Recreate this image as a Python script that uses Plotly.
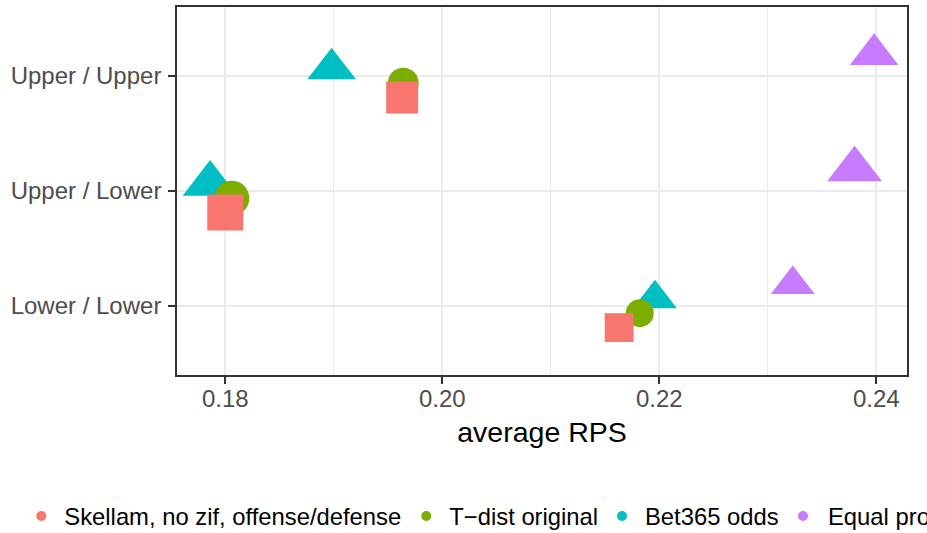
import plotly.graph_objects as go

# ---- data ----
categories = ["Lower / Lower", "Upper / Lower", "Upper / Upper"]
models = ["Skellam, no zif, offense/defense", "T\u2212dist original", "Bet365 odds", "Equal probability"]
skellam = [0.2163, 0.1800, 0.1963]
tdist = [0.2182, 0.1806, 0.1964]
bet365 = [0.2196, 0.1786, 0.1898]
equal = [0.2323, 0.2380, 0.2398]
x_ticks = [0.18, 0.20, 0.22, 0.24]

# ---- style ----
colors = ["#F8766D", "#7CAE00", "#00BFC4", "#C77CFF"]
symbols = ["square", "circle", "triangle-up", "triangle-up"]
shape_factor = [1.03, 1.0, 1.36, 1.36]
cat_size = [28, 35, 31]          # point size per category (px)
dodge_width = 0.5
FONT = "Liberation Sans"

W, H = 927, 533
PL, PT, PR, PB = 177, 7, 907, 375     # panel edges in pixels
ML, MT = PL, PT
PW, PH = PR - PL, PB - PT
MR, MB = W - ML - PW, H - MT - PH

series = [skellam, tdist, bet365, equal]
n = len(series)
fig = go.Figure()

# draw order: Equal, Bet365, T-dist, Skellam (Skellam on top)
for i in reversed(range(n)):
    off = (i - (n - 1) / 2) * dodge_width / n
    ys = [k + 1 + off for k in range(len(categories))]
    fig.add_trace(go.Scatter(
        x=series[i], y=ys, mode="markers", showlegend=False,
        marker=dict(color=colors[i], symbol=symbols[i], opacity=1,
                    size=[s * shape_factor[i] for s in cat_size],
                    line=dict(width=0)),
        hoverinfo="x+name", name=models[i]))

# legend (colour only, circles), each entry in its own legend box
legend_px = [43.3, 428.3, 624, 803]   # symbol centres in pixels
legend_y_px = 516
legend_layout = {}
for i in range(n):
    lid = "legend" if i == 0 else f"legend{i+1}"
    fig.add_trace(go.Scatter(x=[None], y=[None], mode="markers", name=models[i],
                             marker=dict(color=colors[i], size=10, symbol="circle"),
                             legend=lid, showlegend=True))
    legend_layout[lid] = dict(
        orientation="h", xref="paper", yref="paper",
        x=(legend_px[i] - 25 - PL) / PW, xanchor="left",
        y=(PB - legend_y_px) / PH, yanchor="middle",
        font=dict(family=FONT, size=23.8, color="#000000"),
        bgcolor="rgba(0,0,0,0)", borderwidth=0,
        itemwidth=36 if i < 3 else 40,
    )

fig.update_layout(
    width=W, height=H,
    margin=dict(l=ML, r=MR, t=MT, b=MB, autoexpand=False),
    paper_bgcolor="white", plot_bgcolor="white",
    font=dict(family=FONT),
    **legend_layout,
)

fig.update_xaxes(
    range=[0.17555, 0.24283], tickvals=x_ticks, tickformat=".2f",
    showgrid=True, gridcolor="#EBEBEB", gridwidth=2,
    minor=dict(showgrid=True, gridcolor="#EBEBEB", gridwidth=1.2, dtick=0.01, tick0=0.18),
    showline=True, mirror=True, linecolor="#333333", linewidth=1.6,
    ticks="outside", ticklen=7, tickwidth=1.6, tickcolor="#333333",
    tickfont=dict(family=FONT, size=24, color="#4D4D4D"),
    ticklabelstandoff=-6,
    title=dict(text="average RPS", font=dict(family=FONT, size=28.5, color="#000000"), standoff=11),
    zeroline=False,
)
fig.update_yaxes(
    range=[0.4, 3.6], tickvals=[1, 2, 3], ticktext=categories,
    showgrid=True, gridcolor="#EBEBEB", gridwidth=2,
    showline=True, mirror=True, linecolor="#333333", linewidth=1.6,
    ticks="outside", ticklen=7, tickwidth=1.6, tickcolor="#333333",
    tickfont=dict(family=FONT, size=24, color="#4D4D4D"),
    ticklabelstandoff=2,
    zeroline=False,
)

# remove the page's default 8px body margin so figure pixels equal window pixels
fig.write_html("out.html", config={"displayModeBar": False},
               post_script="document.body.style.margin='0px';")
